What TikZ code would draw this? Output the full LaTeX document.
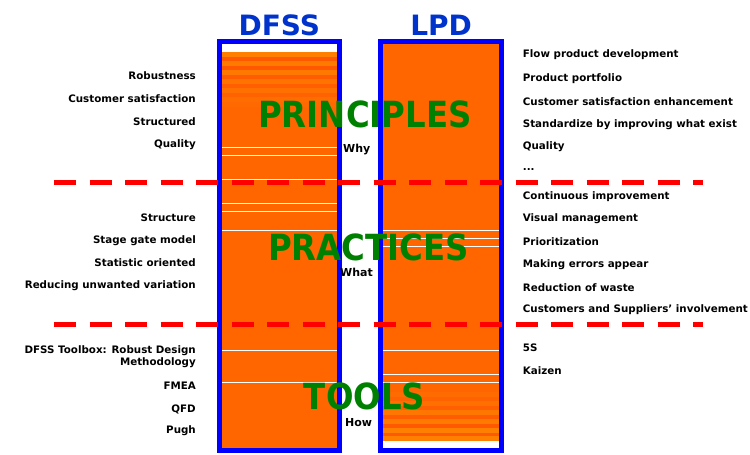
\documentclass[tikz,border=0pt]{standalone}
\usepackage{fontspec}
\setmainfont{DejaVu Sans}
\newfontface\levelfont[FakeStretch=0.9]{DejaVu Sans Bold}
\usetikzlibrary{positioning}

\definecolor{colblue}{RGB}{0,0,255}
\definecolor{headblue}{RGB}{0,51,204}
\definecolor{colorange}{RGB}{255,102,0}
\definecolor{lightorange}{RGB}{255,128,0}
\definecolor{darkorange}{RGB}{255,88,0}
\definecolor{leveltext}{RGB}{0,128,0}
\definecolor{cutline}{RGB}{255,0,0}

\tikzset{
  colframe/.style={draw=colblue, line width=5pt, minimum width=119.5pt,
    minimum height=408.7pt, inner sep=0pt, outer sep=0pt},
  colhead/.style={text=headblue, font=\bfseries\fontsize{28}{28}\selectfont, inner sep=0pt},
  level/.style={text=leveltext, font=\levelfont\fontsize{36}{36}\selectfont, inner sep=0pt},
  question/.style={font=\bfseries\fontsize{11}{11}\selectfont, inner sep=0pt, anchor=west},
  lefttag/.style={font=\bfseries\fontsize{10.3}{12.5}\selectfont, inner sep=0pt, anchor=east, align=right},
  righttag/.style={font=\bfseries\fontsize{10.3}{12.5}\selectfont, inner sep=0pt, anchor=west},
  split/.style={cutline, line width=5pt, dash pattern=on 22pt off 13.5pt},
  seam/.style={white, line width=1pt}
}

\begin{document}
\begin{tikzpicture}[x=1pt, y=-1pt]
  \useasboundingbox (0,0) rectangle (750,455);

  % column fills
  \fill[white] (222,44.3) rectangle (336.5,448);
  \fill[colorange] (222,52) rectangle (336.5,448);
  \fill[white] (383.3,44.3) rectangle (499,448);
  \fill[colorange] (383.3,44.3) rectangle (499,440);

  % shaded bands at the top of DFSS
  \foreach \y/\c in {52/lightorange, 57/darkorange, 61/lightorange!80!colorange, 66/darkorange,
                     70/lightorange!70!colorange, 75/darkorange!70!colorange,
                     79/lightorange!50!colorange, 84/darkorange!50!colorange,
                     88/lightorange!40!colorange, 93/darkorange!30!colorange,
                     97/lightorange!25!colorange, 102/lightorange!12!colorange}
    \fill[\c] (222,\y) rectangle (336.5,\y+4.5);

  % shaded bands at the bottom of LPD
  \foreach \y/\c in {392/lightorange!20!colorange, 397/darkorange!30!colorange,
                     401/lightorange!40!colorange, 406/darkorange!50!colorange,
                     410/lightorange!60!colorange, 415/darkorange!70!colorange,
                     419/lightorange!80!colorange, 424/darkorange, 428/lightorange,
                     433/darkorange, 436/lightorange}
    \fill[\c] (383.3,\y) rectangle (499,\y+4.5);

  % thin white seams
  \foreach \y in {147.3,155.3,179.3,203.3,211,230.5,350.5,382.3}
    \draw[seam] (222,\y) -- (336.5,\y);
  \foreach \y in {230.5,238,246,350.5,374.5,382.5}
    \draw[seam] (383.3,\y) -- (499,\y);

  % the two columns
  \node[colframe] (dfss) at (279.25,246.15) {};
  \node[colframe, minimum width=120.7pt] (lpd) at (441.15,246.15) {};
  \node[colhead, above=6pt of dfss] (dfsshead) {DFSS};
  \node[colhead, above=6pt of lpd] (lpdhead) {LPD};

  % levels
  \node[level] (principles) at (365,114) {PRINCIPLES};
  \node[level] (practices) at (368.5,247.5) {PRACTICES};
  \node[level] (tools) at (364.5,396.5) {TOOLS};
  \node[question] (why) at (343,150) {Why};
  \node[question] (what) at (340,272) {What};
  \node[question] (how) at (345,423) {How};

  % DFSS side
  \node[lefttag] (robust) at (196,76) {Robustness};
  \node[lefttag] (custsat) at (196,99) {Customer satisfaction};
  \node[lefttag] (structured) at (196,122) {Structured};
  \node[lefttag] (quality) at (196,145) {Quality};
  \node[lefttag] (structure) at (196,218) {Structure};
  \node[lefttag] (stagegate) at (196,241) {Stage gate model};
  \node[lefttag] (statistic) at (196,263) {Statistic oriented};
  \node[lefttag] (variation) at (196,286) {Reducing unwanted variation};
  \node[lefttag] (toolbox) at (196,356.5) {DFSS Toolbox: Robust Design\\Methodology};
  \node[lefttag] (fmea) at (196,386) {FMEA};
  \node[lefttag] (qfd) at (196,409) {QFD};
  \node[lefttag] (pugh) at (196,431) {Pugh};

  % LPD side
  \node[righttag] (flow) at (522.7,55) {Flow product development};
  \node[righttag] (portfolio) at (522.7,79) {Product portfolio};
  \node[righttag] (enhance) at (522.7,101.7) {Customer satisfaction enhancement};
  \node[righttag] (standard) at (522.7,125) {Standardize by improving what exist};
  \node[righttag] (lquality) at (522.7,146.7) {Quality};
  \node[righttag] (more) at (522.7,170) {...};
  \node[righttag] (improve) at (522.7,196.7) {Continuous improvement};
  \node[righttag] (visual) at (522.7,218.3) {Visual management};
  \node[righttag] (priority) at (522.7,242) {Prioritization};
  \node[righttag] (errors) at (522.7,264.7) {Making errors appear};
  \node[righttag] (waste) at (522.7,288) {Reduction of waste};
  \node[righttag] (involve) at (522.7,309.7) {Customers and Suppliers’ involvement};
  \node[righttag] (fives) at (522.7,347.3) {5S};
  \node[righttag] (kaizen) at (522.7,370.7) {Kaizen};

  % level boundaries
  \coordinate (cut1a) at (54,182.3);
  \coordinate (cut1b) at (703,182.3);
  \coordinate (cut2a) at (54,324);
  \coordinate (cut2b) at (703,324);
  \draw[split] (cut1a) -- (cut1b);
  \draw[split] (cut2a) -- (cut2b);
\end{tikzpicture}
\end{document}
